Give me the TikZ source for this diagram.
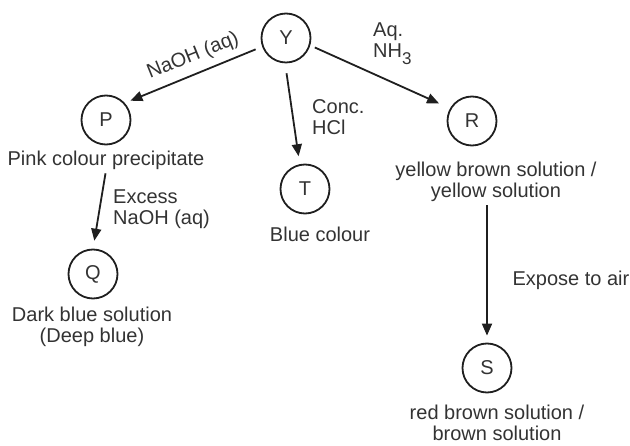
\documentclass[tikz,border=0pt]{standalone}
\usepackage{fontspec}
\setmainfont{Liberation Sans}
\usetikzlibrary{arrows.meta}
\begin{document}
\begin{tikzpicture}[x=1pt,y=-1pt,
  st/.style={circle,draw=black!88,line width=1.8pt,minimum size=49pt,inner sep=0pt,text=black!80,font=\fontsize{20}{22}\selectfont},
  lbl/.style={font=\fontsize{20}{21}\selectfont,text=black!80,inner sep=0pt},
  arr/.style={line width=1.8pt,draw=black!88,-{Triangle[length=12pt,width=10pt]}}]
\useasboundingbox (0,0) rectangle (630,446);
% state circles
\node[st] (Y) at (286,38) {Y};
\node[st] (P) at (106,120) {P};
\node[st] (T) at (305,189) {T};
\node[st] (Q) at (93,274) {Q};
\node[st] (R) at (472,121) {R};
\node[st] (S) at (487,368) {S};
% descriptions (base anchor = baseline of last line)
\node[lbl,anchor=base] (Ptext) at (106,166) {Pink colour precipitate};
\node[lbl,anchor=base,align=center] (Qtext) at (92,343) {Dark blue solution\\(Deep blue)};
\node[lbl,anchor=base] (Ttext) at (320,242) {Blue colour};
\node[lbl,anchor=base,align=center] (Rtext) at (496,198) {yellow brown solution /\\yellow solution};
\node[lbl,anchor=base,align=center] (Stext) at (497,441) {red brown solution /\\brown solution};
% reagent labels
\node[lbl,rotate=22] (l1) at (193,56) {NaOH (aq)};
\node[lbl,anchor=base west,align=left] (l2) at (373,58) {Aq.\\NH\raisebox{-7pt}{\fontsize{17}{17}\selectfont 3}};
\node[lbl,anchor=base west,align=left] (l3) at (312,135) {Conc.\\HCl};
\node[lbl,anchor=base west,align=left] (l4) at (113,225) {Excess\\NaOH (aq)};
\node[lbl,anchor=base] (l5) at (571,286) {Expose to air};
% arrows
\draw[arr,shorten <=7pt,shorten >=6pt] (Y.200) -- (P.42);
\draw[arr,shorten <=10pt,shorten >=8pt] (Y.268) -- (T.102);
\draw[arr,shorten <=5pt,shorten >=12pt] (Y.-17) -- (R.150);
\draw[arr,shorten <=3pt,shorten >=8pt] (Ptext.south) -- (Q.north);
\draw[arr,shorten <=3pt,shorten >=7pt] (Rtext.south -| S.north) -- (S.north);
\end{tikzpicture}
\end{document}
